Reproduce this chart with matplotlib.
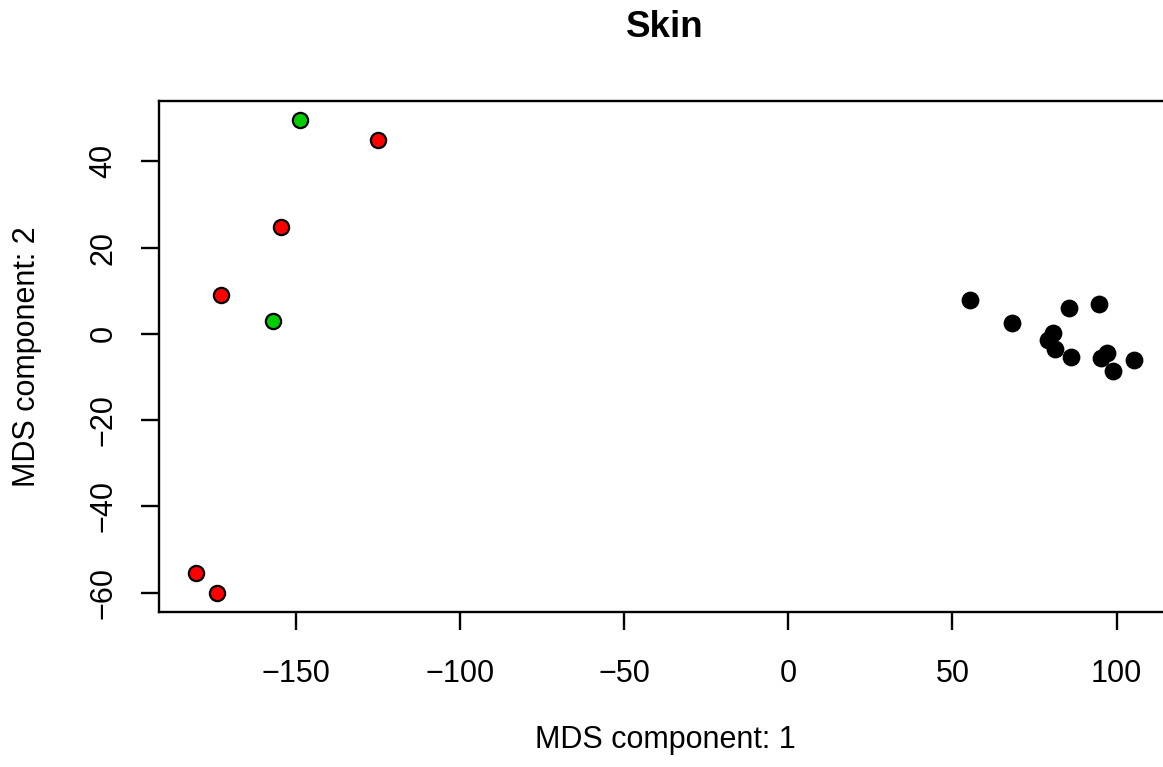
import matplotlib.pyplot as plt
import numpy as np

plt.rcParams['font.family'] = 'sans-serif'
plt.rcParams['font.sans-serif'] = ['Liberation Sans', 'DejaVu Sans']

# MDS coordinates
red_x = [-125.0, -154.6, -172.7, -180.3, -174.2]
red_y = [45.0, 24.8, 9.0, -55.5, -60.1]

green_x = [-148.8, -157.1]
green_y = [49.6, 3.0]

black_x = [55.2, 68.1, 85.5, 94.7, 80.7, 79.2, 81.2, 86.0, 97.0, 95.4, 98.9, 105.3]
black_y = [7.9, 2.6, 6.0, 7.0, 0.2, -1.4, -3.6, -5.4, -4.5, -5.6, -8.5, -6.0]

x_ticks = [-150, -100, -50, 0, 50, 100]
y_ticks = [-60, -40, -20, 0, 20, 40]

fig = plt.figure(figsize=(11.63, 7.67), dpi=100)
ax = fig.add_axes([0.1367, 0.2021, 0.8706, 0.6662])

ax.scatter(black_x, black_y, s=135, color='black', edgecolor='black', linewidth=1.2, zorder=3)
ax.scatter(red_x, red_y, s=120, color='#FF0000', edgecolor='black', linewidth=1.6, zorder=3)
ax.scatter(green_x, green_y, s=120, color='#00CD00', edgecolor='black', linewidth=1.6, zorder=3)

# R style 4% padding around the data
all_x = np.array(red_x + green_x + black_x)
all_y = np.array(red_y + green_y + black_y)
dx = (all_x.max() - all_x.min()) * 0.04
dy = (all_y.max() - all_y.min()) * 0.04
ax.set_xlim(all_x.min() - dx, all_x.max() + dx)
ax.set_ylim(all_y.min() - dy, all_y.max() + dy)

ax.set_xticks(x_ticks)
ax.set_xticklabels(['\u2212' + str(-v) if v < 0 else str(v) for v in x_ticks])
ax.set_yticks(y_ticks)
ax.set_yticklabels(['\u2212' + str(-v) if v < 0 else str(v) for v in y_ticks],
                   rotation=90, va='center')

for spine in ax.spines.values():
    spine.set_linewidth(1.7)

ax.tick_params(axis='both', length=13, width=1.7, labelsize=22, direction='out')
ax.tick_params(axis='x', pad=21)
ax.tick_params(axis='y', pad=16)

ax.set_xlabel('MDS component: 1', fontsize=22, va='top')
ax.xaxis.set_label_coords(0.5, -0.221)
ax.set_ylabel('MDS component: 2', fontsize=22)
ax.yaxis.set_label_coords(-0.1156, 0.5)

ax.set_title('Skin', fontsize=26.5, fontweight='bold', pad=46)

fig.savefig('out.png', dpi=100)
plt.close()
